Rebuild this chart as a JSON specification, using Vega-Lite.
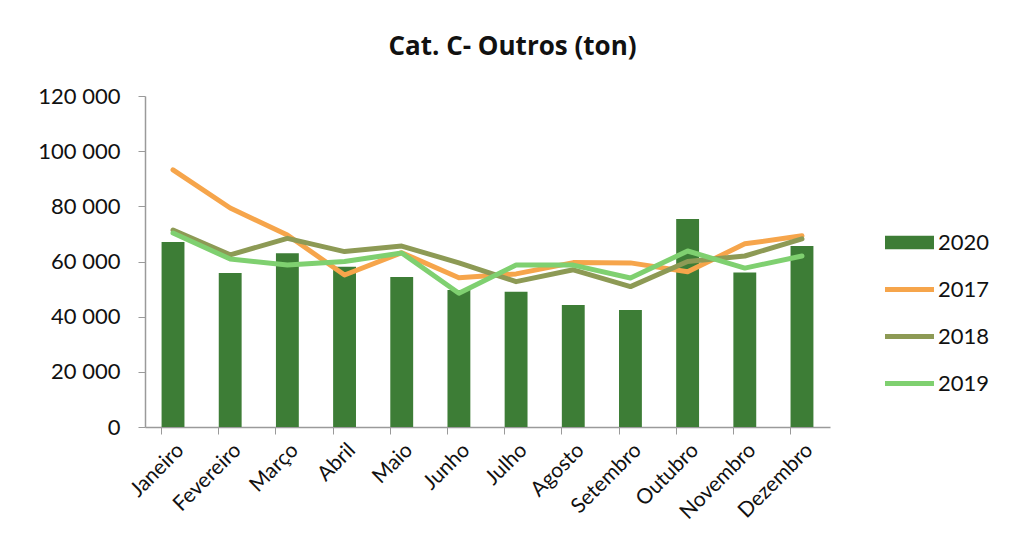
{
  "$schema": "https://vega.github.io/schema/vega-lite/v6.json",
  "width": 685,
  "height": 331,
  "autosize": {"type": "none"},
  "padding": {"left": 145, "top": 96, "right": 184, "bottom": 129},
  "background": "white",
  "config": {"font": "Lato", "view": {"stroke": null}},
  "title": {
    "text": "Cat. C- Outros (ton)",
    "font": "Open Sans",
    "fontSize": 26,
    "fontWeight": "bold",
    "color": "#111111",
    "anchor": "middle",
    "dx": 25,
    "offset": 25
  },
  "data": {
    "values": [
      {"month": "Janeiro", "year": "2020", "value": 67100},
      {"month": "Fevereiro", "year": "2020", "value": 55800},
      {"month": "Março", "year": "2020", "value": 63000},
      {"month": "Abril", "year": "2020", "value": 58100},
      {"month": "Maio", "year": "2020", "value": 54400},
      {"month": "Junho", "year": "2020", "value": 49700},
      {"month": "Julho", "year": "2020", "value": 49000},
      {"month": "Agosto", "year": "2020", "value": 44200},
      {"month": "Setembro", "year": "2020", "value": 42400},
      {"month": "Outubro", "year": "2020", "value": 75400},
      {"month": "Novembro", "year": "2020", "value": 56000},
      {"month": "Dezembro", "year": "2020", "value": 65600},
      {"month": "Janeiro", "year": "2017", "value": 93200},
      {"month": "Fevereiro", "year": "2017", "value": 79400},
      {"month": "Março", "year": "2017", "value": 69600},
      {"month": "Abril", "year": "2017", "value": 55100},
      {"month": "Maio", "year": "2017", "value": 63200},
      {"month": "Junho", "year": "2017", "value": 54100},
      {"month": "Julho", "year": "2017", "value": 55500},
      {"month": "Agosto", "year": "2017", "value": 59600},
      {"month": "Setembro", "year": "2017", "value": 59500},
      {"month": "Outubro", "year": "2017", "value": 56300},
      {"month": "Novembro", "year": "2017", "value": 66400},
      {"month": "Dezembro", "year": "2017", "value": 69300},
      {"month": "Janeiro", "year": "2018", "value": 71400},
      {"month": "Fevereiro", "year": "2018", "value": 62400},
      {"month": "Março", "year": "2018", "value": 68400},
      {"month": "Abril", "year": "2018", "value": 63600},
      {"month": "Maio", "year": "2018", "value": 65600},
      {"month": "Junho", "year": "2018", "value": 59500},
      {"month": "Julho", "year": "2018", "value": 52700},
      {"month": "Agosto", "year": "2018", "value": 57000},
      {"month": "Setembro", "year": "2018", "value": 50900},
      {"month": "Outubro", "year": "2018", "value": 60000},
      {"month": "Novembro", "year": "2018", "value": 62000},
      {"month": "Dezembro", "year": "2018", "value": 68200},
      {"month": "Janeiro", "year": "2019", "value": 70300},
      {"month": "Fevereiro", "year": "2019", "value": 60900},
      {"month": "Março", "year": "2019", "value": 58700},
      {"month": "Abril", "year": "2019", "value": 60000},
      {"month": "Maio", "year": "2019", "value": 63100},
      {"month": "Junho", "year": "2019", "value": 48500},
      {"month": "Julho", "year": "2019", "value": 58700},
      {"month": "Agosto", "year": "2019", "value": 58700},
      {"month": "Setembro", "year": "2019", "value": 54000},
      {"month": "Outubro", "year": "2019", "value": 63800},
      {"month": "Novembro", "year": "2019", "value": 57600},
      {"month": "Dezembro", "year": "2019", "value": 62000}
    ]
  },
  "encoding": {
    "x": {
      "field": "month",
      "type": "nominal",
      "sort": ["Janeiro", "Fevereiro", "Março", "Abril", "Maio", "Junho", "Julho", "Agosto", "Setembro", "Outubro", "Novembro", "Dezembro"],
      "scale": {"type": "band", "paddingInner": 0.6, "paddingOuter": 0.29},
      "axis": {
        "title": null,
        "labelAngle": -45,
        "labelFontSize": 21,
        "labelColor": "#111111",
        "labelPadding": 5,
        "bandPosition": 0,
        "ticks": true,
        "tickSize": 7,
        "tickColor": "#9a9a9a",
        "domainColor": "#9a9a9a",
        "domainWidth": 1.5,
        "grid": false
      }
    },
    "y": {
      "field": "value",
      "type": "quantitative",
      "scale": {"domain": [0, 120000]},
      "axis": {
        "title": null,
        "values": [0, 20000, 40000, 60000, 80000, 100000, 120000],
        "labelExpr": "replace(format(datum.value, ','), ',', ' ')",
        "labelFontSize": 22,
        "labelColor": "#111111",
        "labelPadding": 18,
        "tickSize": 7,
        "tickColor": "#9a9a9a",
        "domainColor": "#9a9a9a",
        "domainWidth": 1.5,
        "grid": false
      }
    },
    "color": {
      "field": "year",
      "type": "nominal",
      "scale": {
        "domain": ["2020", "2017", "2018", "2019"],
        "range": ["#3d7d36", "#f6a54b", "#8d9a55", "#7fd070"]
      },
      "legend": {
        "title": null,
        "orient": "none",
        "legendX": 740,
        "legendY": 122,
        "labelFontSize": 22,
        "labelColor": "#111111",
        "symbolType": "M-1,-0.1H1V0.1H-1Z",
        "symbolSize": 2400,
        "rowPadding": 11,
        "labelOffset": 4,
        "encode": {
          "symbols": {
            "update": {
              "shape": {"signal": "datum.value === '2020' ? 'M-1,-0.28H1V0.28H-1Z' : 'M-1,-0.1H1V0.1H-1Z'"},
              "fill": {"signal": "scale('color', datum.value)"},
              "stroke": {"value": "transparent"},
              "strokeWidth": {"value": 0},
              "opacity": {"value": 1}
            }
          }
        }
      }
    }
  },
  "layer": [
    {
      "transform": [{"filter": "datum.year === '2020'"}],
      "mark": {"type": "bar"}
    },
    {
      "transform": [{"filter": "datum.year !== '2020'"}],
      "mark": {"type": "line", "strokeWidth": 5, "strokeCap": "round", "strokeJoin": "round"},
      "encoding": {"detail": {"field": "year"}}
    }
  ]
}
